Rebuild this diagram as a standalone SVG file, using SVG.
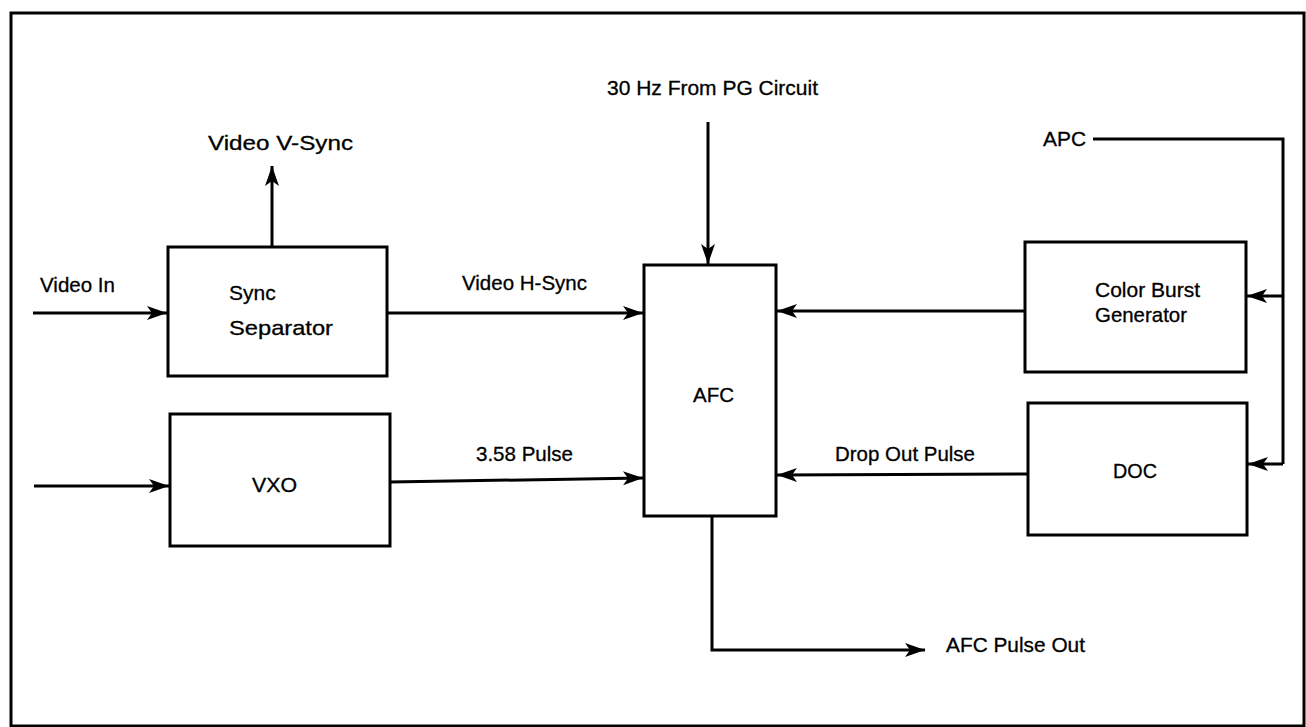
<svg xmlns="http://www.w3.org/2000/svg" width="1306" height="727" viewBox="0 0 1306 727">
<style>
.box{fill:#fff;stroke:#000;stroke-width:3}
.ln{fill:none;stroke:#000;stroke-width:3}
.t{font-family:"Liberation Sans",Arial,Helvetica,sans-serif;font-size:21px;fill:#000;stroke:#000;stroke-width:0.3}
</style>
<defs>
<marker id="ah" markerUnits="userSpaceOnUse" viewBox="0 0 22 16" markerWidth="22" markerHeight="16" refX="20" refY="8" orient="auto" overflow="visible">
<path d="M0,1 L20,8 L0,15 L5,8 z" fill="#000"/>
</marker>
</defs>
<rect x="0" y="0" width="1306" height="727" fill="#fff"/>
<rect id="frame" x="11" y="13" width="1293" height="713" fill="none" stroke="#000" stroke-width="3"/>
<g id="connectors">
<line class="ln" x1="33" y1="313" x2="167" y2="313" marker-end="url(#ah)"/>
<line class="ln" x1="34" y1="486" x2="169" y2="486" marker-end="url(#ah)"/>
<line class="ln" x1="272" y1="247" x2="272" y2="166" marker-end="url(#ah)"/>
<line class="ln" x1="387" y1="313" x2="643" y2="313" marker-end="url(#ah)"/>
<line class="ln" x1="390" y1="482" x2="643" y2="478" marker-end="url(#ah)"/>
<line class="ln" x1="708" y1="122" x2="708" y2="264" marker-end="url(#ah)"/>
<line class="ln" x1="1025" y1="311" x2="777" y2="311" marker-end="url(#ah)"/>
<line class="ln" x1="1028" y1="474" x2="777" y2="475" marker-end="url(#ah)"/>
<polyline class="ln" points="1093,139 1283,139 1283,464"/>
<line class="ln" x1="1283" y1="296" x2="1247" y2="296" marker-end="url(#ah)"/>
<line class="ln" x1="1283" y1="464" x2="1248" y2="464" marker-end="url(#ah)"/>
<polyline class="ln" points="712,515 712,650 925,650" marker-end="url(#ah)"/>
</g>
<g id="sync-separator">
<rect class="box" x="168" y="247" width="219" height="129"/>
<text class="t" x="229" y="300" font-size="22">Sync</text>
<text class="t" x="229" y="335" font-size="22" textLength="104" lengthAdjust="spacingAndGlyphs">Separator</text>
</g>
<g id="vxo">
<rect class="box" x="170" y="414" width="220" height="132"/>
<text class="t" x="252" y="492" textLength="45" lengthAdjust="spacingAndGlyphs">VXO</text>
</g>
<g id="afc">
<rect class="box" x="644" y="265" width="132" height="251"/>
<text class="t" x="693" y="402" textLength="41" lengthAdjust="spacingAndGlyphs">AFC</text>
</g>
<g id="color-burst-generator">
<rect class="box" x="1025" y="242" width="221" height="130"/>
<text class="t" x="1095" y="297" textLength="105" lengthAdjust="spacingAndGlyphs">Color Burst</text>
<text class="t" x="1095" y="322" textLength="92" lengthAdjust="spacingAndGlyphs">Generator</text>
</g>
<g id="doc">
<rect class="box" x="1028" y="403" width="219" height="132"/>
<text class="t" x="1113" y="478" textLength="44" lengthAdjust="spacingAndGlyphs">DOC</text>
</g>
<g id="labels">
<text class="t" x="208" y="150" font-size="24" textLength="145" lengthAdjust="spacingAndGlyphs">Video V-Sync</text>
<text class="t" x="40" y="292" textLength="75" lengthAdjust="spacingAndGlyphs">Video In</text>
<text class="t" x="462" y="290" font-size="22" textLength="125" lengthAdjust="spacingAndGlyphs">Video H-Sync</text>
<text class="t" x="607" y="95" font-size="22" textLength="211" lengthAdjust="spacingAndGlyphs">30 Hz From PG Circuit</text>
<text class="t" x="1043" y="146" textLength="43" lengthAdjust="spacingAndGlyphs">APC</text>
<text class="t" x="476" y="461" textLength="97" lengthAdjust="spacingAndGlyphs">3.58 Pulse</text>
<text class="t" x="835" y="461" textLength="140" lengthAdjust="spacingAndGlyphs">Drop Out Pulse</text>
<text class="t" x="946" y="652" textLength="139" lengthAdjust="spacingAndGlyphs">AFC Pulse Out</text>
</g>
</svg>
